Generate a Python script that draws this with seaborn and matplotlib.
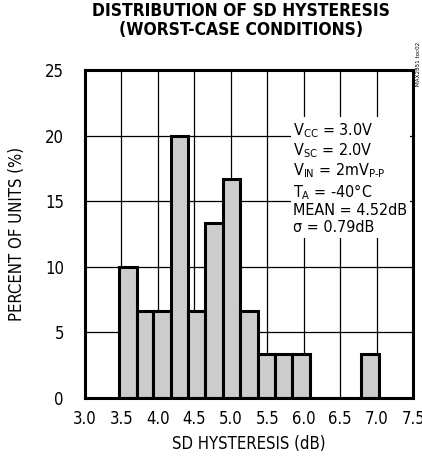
import matplotlib
matplotlib.use("Agg")
import matplotlib.pyplot as plt
from matplotlib import font_manager
import seaborn as sns

# bins (dB) and percent of units in each
bin_edges = [3.47, 3.71, 3.94, 4.18, 4.42, 4.65, 4.89, 5.13, 5.37, 5.60,
             5.84, 6.08, 6.31, 6.55, 6.79, 7.03]
bin_centers = [3.59, 3.83, 4.06, 4.30, 4.54, 4.77, 5.01, 5.25, 5.49, 5.72,
               5.96, 6.20, 6.43, 6.67, 6.91]
percent_units = [10.0, 6.67, 6.67, 20.0, 6.67, 13.33, 16.67, 6.67, 3.33, 3.33,
                 3.33, 0, 0, 0, 3.33]

x_ticks = [3.0, 3.5, 4.0, 4.5, 5.0, 5.5, 6.0, 6.5, 7.0, 7.5]
y_ticks = [0, 5, 10, 15, 20, 25]

# pick a narrow sans if there is one (the original uses a condensed Helvetica)
fonts = font_manager.fontManager.ttflist
have = {f.name for f in fonts}
stretch = "normal"
if "Liberation Sans Narrow" in have:
    family = "Liberation Sans Narrow"
elif any(f.name == "DejaVu Sans" and f.stretch == "condensed" for f in fonts):
    family, stretch = "DejaVu Sans", "condensed"
else:
    family = "Roboto"

sns.set_style("white")
plt.rcParams["font.family"] = [family, "DejaVu Sans"]
plt.rcParams["font.stretch"] = stretch
plt.rcParams["mathtext.fontset"] = "custom"
plt.rcParams["mathtext.rm"] = family
plt.rcParams["mathtext.default"] = "rm"
for k in ["text.color", "axes.labelcolor", "xtick.color", "ytick.color"]:
    plt.rcParams[k] = "black"

fig = plt.figure(figsize=(4.22, 4.59), dpi=100)
ax = fig.add_axes([0.201, 0.133, 0.778, 0.714])

sns.histplot(x=bin_centers, weights=percent_units, bins=bin_edges, ax=ax,
             color="#cccccc", alpha=1, edgecolor="black", linewidth=2.2, zorder=3)

ax.set_xlim(3.0, 7.5)
ax.set_ylim(0, 25)
ax.set_xticks(x_ticks)
ax.set_xticklabels([f"{t:.1f}" for t in x_ticks])
ax.set_yticks(y_ticks)
ax.grid(True, color="black", linewidth=0.9, zorder=1)
ax.set_axisbelow(True)
ax.tick_params(length=0, labelsize=12)
ax.tick_params(axis="x", pad=9)
ax.tick_params(axis="y", pad=15)
for s in ax.spines.values():
    s.set_linewidth(2.2)
    s.set_color("black")
    s.set_zorder(5)

ax.set_xlabel("SD HYSTERESIS (dB)", fontsize=12)
ax.set_ylabel("PERCENT OF UNITS (%)", fontsize=12)
ax.xaxis.set_label_coords(0.5, -0.112)
ax.yaxis.set_label_coords(-0.178, 0.5)

fig.text(0.571, 0.995, "DISTRIBUTION OF SD HYSTERESIS\n(WORST-CASE CONDITIONS)",
         ha="center", va="top", fontsize=12.5, fontweight="heavy", linespacing=1.05)

notes = ("V$_{\\rm CC}$ = 3.0V\n"
         "V$_{\\rm SC}$ = 2.0V\n"
         "V$_{\\rm IN}$ = 2mV$_{\\rm P\\text{-}P}$\n"
         "T$_{\\rm A}$ = -40°C\n"
         "MEAN = 4.52dB\n"
         "σ = 0.79dB")
ax.text(0.635, 0.845, notes, transform=ax.transAxes,
        ha="left", va="top", fontsize=11.5, linespacing=1.12, zorder=6,
        bbox=dict(facecolor="white", edgecolor="none", pad=2))

fig.text(0.992, 0.86, "MAX2851 toc02", rotation=90, fontsize=4.5,
         ha="center", va="center")

fig.savefig("out.png", dpi=100)
